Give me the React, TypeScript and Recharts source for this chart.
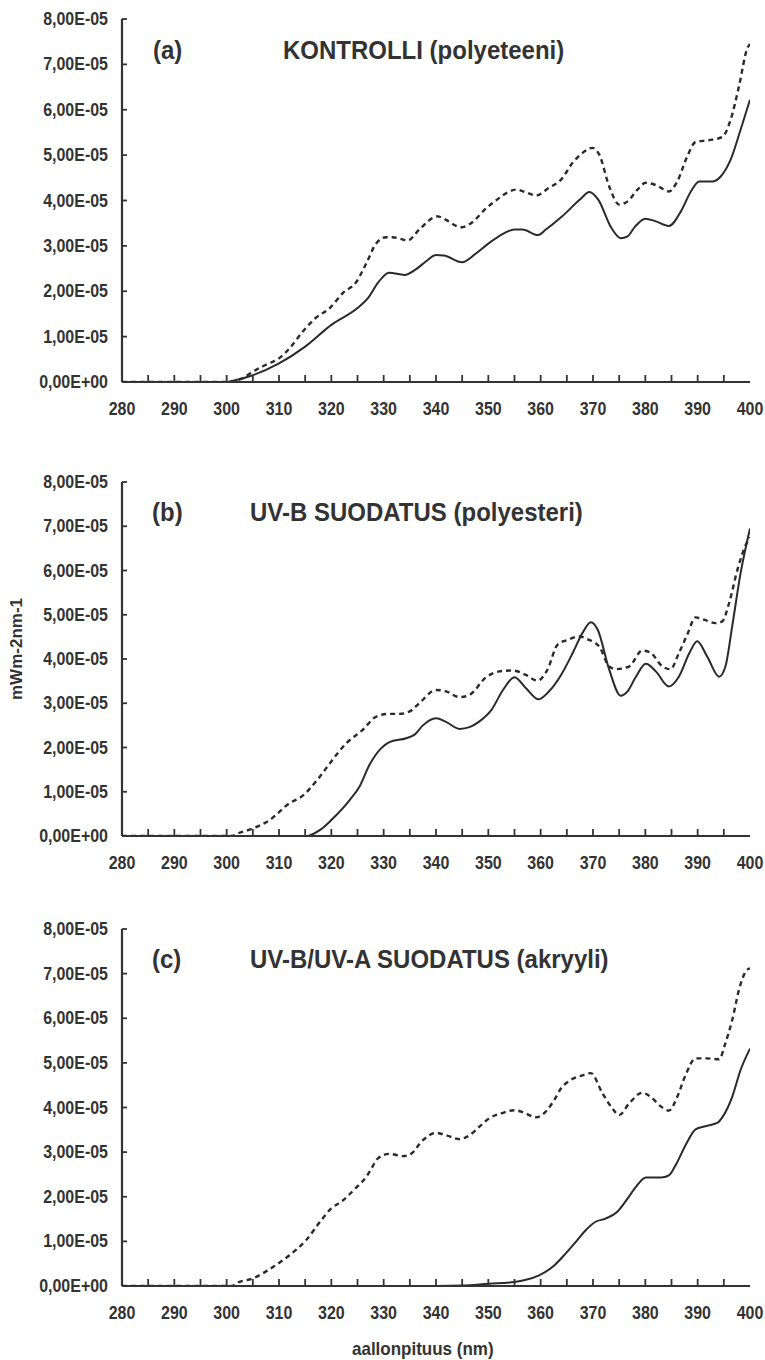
import React from 'react';
import { LineChart, Line, XAxis, YAxis } from 'recharts';

// wavelength ticks (nm) and y ticks (units of 1E-05)
const xTicks = [280, 285, 290, 295, 300, 305, 310, 315, 320, 325, 330, 335, 340, 345, 350, 355, 360, 365, 370, 375, 380, 385, 390, 395, 400];
const yTicks = [0, 1, 2, 3, 4, 5, 6, 7, 8];

// (a) KONTROLLI
const aSolidNm = [280, 290, 300, 302, 305, 310, 315, 320, 325, 327, 329, 331, 334, 336, 338, 340, 341.5, 345, 347.5, 350, 352, 355, 356.5, 359.5, 361, 364, 367.5, 369.3, 371, 373.5, 375.3, 376.6, 378, 380, 382, 384.5, 386.8, 388.7, 390.3, 392.8, 394.4, 396.3, 398.2, 400];
const aSolidVal = [0, 0, 0, 0.05, 0.15, 0.41, 0.78, 1.26, 1.63, 1.85, 2.2, 2.41, 2.36, 2.47, 2.65, 2.8, 2.79, 2.64, 2.82, 3.05, 3.21, 3.36, 3.36, 3.24, 3.36, 3.64, 4.02, 4.19, 4.02, 3.4, 3.17, 3.21, 3.42, 3.6, 3.54, 3.44, 3.76, 4.2, 4.42, 4.42, 4.53, 4.9, 5.56, 6.22];
const aDashNm = [280, 290, 300, 303, 305, 307.5, 310, 312, 314.6, 317, 319.7, 322.2, 324.8, 326.7, 328.6, 330.5, 331.7, 334.6, 336.8, 340.3, 341.8, 344.8, 346.7, 349.6, 351.8, 353.7, 355.3, 357.2, 359.1, 361.6, 363.9, 366.1, 368, 369.9, 371.2, 373.1, 375, 376.6, 378.5, 380.1, 382, 384.5, 386.1, 388, 389.6, 392.2, 394.7, 396.3, 397.9, 399.5, 400];
const aDashVal = [0, 0, 0, 0.08, 0.23, 0.38, 0.52, 0.74, 1.12, 1.41, 1.63, 1.96, 2.21, 2.62, 3.06, 3.19, 3.19, 3.12, 3.36, 3.65, 3.58, 3.41, 3.5, 3.83, 4.03, 4.18, 4.24, 4.18, 4.11, 4.28, 4.46, 4.83, 5.05, 5.16, 5.01, 4.31, 3.91, 3.98, 4.24, 4.39, 4.34, 4.2, 4.42, 4.97, 5.29, 5.33, 5.4, 5.78, 6.52, 7.36, 7.45];

// (b) UV-B SUODATUS
const bSolidNm = [280, 300, 310, 312, 314, 316, 318, 320, 323.5, 325.4, 327.3, 329.5, 331.1, 334.3, 335.9, 337.5, 340, 341.9, 344.5, 346.4, 348.3, 350.6, 352.8, 355, 357.2, 359.6, 361.6, 363.9, 366.1, 368, 369.6, 370.9, 373.1, 375.3, 376.6, 378.2, 380.1, 382, 384.5, 386.4, 388.4, 389.9, 391.8, 394.1, 395.3, 396.6, 398.2, 400];
const bSolidVal = [0, 0, 0, -0.03, -0.03, 0.02, 0.15, 0.36, 0.81, 1.12, 1.61, 1.98, 2.12, 2.21, 2.29, 2.5, 2.66, 2.58, 2.42, 2.46, 2.59, 2.85, 3.3, 3.59, 3.34, 3.09, 3.27, 3.64, 4.13, 4.59, 4.83, 4.66, 3.76, 3.17, 3.27, 3.6, 3.89, 3.72, 3.38, 3.6, 4.13, 4.4, 4.06, 3.6, 3.83, 4.74, 5.94, 6.95];
const bDashNm = [280, 301, 302.2, 305, 308.2, 312, 314.3, 317.8, 319.7, 322.9, 326, 328.6, 331.1, 333, 334.9, 336.8, 340, 341.9, 344.5, 346.4, 349.6, 352.1, 354.6, 357.2, 359.4, 361.3, 363.2, 365.1, 367.4, 368.9, 371.2, 373.1, 374.4, 376.9, 379.4, 380.9, 383.3, 384.8, 386.4, 388, 389.6, 391.2, 393.4, 394.7, 396, 397.6, 399.2, 400];
const bDashVal = [0, 0, 0.06, 0.17, 0.36, 0.74, 0.89, 1.34, 1.64, 2.1, 2.4, 2.7, 2.76, 2.76, 2.81, 3.0, 3.3, 3.27, 3.14, 3.19, 3.59, 3.72, 3.74, 3.64, 3.51, 3.76, 4.32, 4.43, 4.51, 4.45, 4.28, 3.83, 3.77, 3.83, 4.19, 4.15, 3.83, 3.77, 4.13, 4.55, 4.94, 4.89, 4.81, 4.85, 5.26, 6.02, 6.58, 6.75];

// (c) UV-B/UV-A SUODATUS
const cSolidNm = [280, 340, 345, 350, 355, 357.2, 359.7, 362.3, 364.8, 367, 368.6, 370.5, 372.4, 374.6, 376.6, 378.2, 380.1, 383, 384.5, 385.8, 387.7, 389.6, 391.5, 393.8, 394.7, 396.6, 398.2, 400];
const cSolidVal = [0, 0, 0.01, 0.05, 0.09, 0.14, 0.24, 0.43, 0.73, 1.03, 1.25, 1.44, 1.51, 1.66, 1.96, 2.22, 2.43, 2.43, 2.48, 2.71, 3.16, 3.51, 3.58, 3.66, 3.78, 4.24, 4.84, 5.32];
const cDashNm = [280, 301, 302, 305, 308.9, 312, 315.2, 318.1, 320, 321.9, 324.8, 326.7, 327.5, 328.9, 331.1, 333.7, 335.2, 337.5, 340, 341.9, 344.5, 346.4, 348.3, 350.2, 352.8, 355, 356.9, 359.1, 361, 362.6, 363.9, 365.8, 367.7, 369.6, 371.8, 373.7, 375, 376.9, 379.4, 381.3, 382.9, 384.5, 386.1, 387.7, 389.6, 391.8, 394.1, 395.3, 396.6, 397.9, 399.2, 400];
const cDashVal = [0, 0, 0.07, 0.17, 0.43, 0.69, 1.03, 1.48, 1.74, 1.89, 2.21, 2.45, 2.6, 2.86, 2.96, 2.91, 2.96, 3.27, 3.43, 3.38, 3.29, 3.38, 3.57, 3.76, 3.88, 3.94, 3.88, 3.78, 3.91, 4.17, 4.43, 4.62, 4.71, 4.77, 4.32, 3.98, 3.83, 4.09, 4.33, 4.21, 4.03, 3.93, 4.24, 4.73, 5.1, 5.1, 5.08, 5.44, 5.96, 6.64, 7.05, 7.12];

const SCALE = 1e-5;
const build = (nm: number[], val: number[]) => nm.map((x, i) => ({ x, y: val[i] * SCALE }));

const FONT = '"Liberation Sans", Arial, sans-serif';
const TXT = '#333';
const AX = '#333';
const LINE = '#2a2a2a';
const STRETCH = 1.1;

const fmtY = (t: number) => {
  const v = Math.round(t / SCALE);
  return v === 0 ? '0,00E+00' : `${v},00E-05`;
};

const XTick = (props: any) => {
  const { x, y, payload } = props;
  const v = payload.value;
  return (
    <g>
      {v !== 280 && v !== 400 && (
        <line x1={x} x2={x} y1={y} y2={y - 7} stroke={AX} strokeWidth={1.8} />
      )}
      {v % 10 === 0 && (
        <text
          transform={`translate(${x},${y + 33}) scale(1,${STRETCH})`}
          textAnchor="middle"
          fontSize={16}
          fontWeight="bold"
          fill={TXT}
          fontFamily={FONT}
        >
          {v}
        </text>
      )}
    </g>
  );
};

const YTick = (props: any) => {
  const { x, y, payload } = props;
  return (
    <g>
      <line x1={x} x2={x + 5} y1={y} y2={y} stroke={AX} strokeWidth={1.8} />
      <text
        transform={`translate(${x - 14},${y + 6}) scale(1,${STRETCH})`}
        textAnchor="end"
        fontSize={16}
        fontWeight="bold"
        fill={TXT}
        fontFamily={FONT}
      >
        {fmtY(payload.value)}
      </text>
    </g>
  );
};

const Panel = ({ top, marginTop, solid, dashed }: any) => (
  <div style={{ position: 'absolute', left: 0, top, width: 765, height: 440 }}>
    <LineChart width={765} height={440} margin={{ top: marginTop, right: 15, bottom: 0, left: 0 }}>
      <XAxis
        dataKey="x"
        type="number"
        domain={[280, 400]}
        ticks={xTicks}
        interval={0}
        tickSize={0}
        tickMargin={0}
        tickLine={false}
        tick={<XTick />}
        height={50}
        axisLine={{ stroke: AX, strokeWidth: 2.2 }}
        allowDataOverflow
      />
      <XAxis
        xAxisId="top"
        orientation="top"
        dataKey="x"
        type="number"
        domain={[280, 400]}
        tick={false}
        tickLine={false}
        height={0}
        axisLine={{ stroke: AX, strokeWidth: 2.2 }}
      />
      <YAxis
        type="number"
        domain={[0, 8 * SCALE]}
        ticks={yTicks.map((t) => t * SCALE)}
        interval={0}
        tickSize={0}
        tickMargin={0}
        tickLine={false}
        tick={<YTick />}
        width={122}
        axisLine={{ stroke: AX, strokeWidth: 2.2 }}
        allowDataOverflow
      />
      <YAxis
        yAxisId="right"
        orientation="right"
        type="number"
        domain={[0, 8 * SCALE]}
        tick={false}
        tickLine={false}
        width={0}
        axisLine={{ stroke: AX, strokeWidth: 2.2 }}
      />
      <Line
        data={dashed}
        dataKey="y"
        type="monotone"
        stroke={LINE}
        strokeWidth={2.4}
        strokeDasharray="5 4"
        dot={false}
        isAnimationActive={false}
      />
      <Line
        data={solid}
        dataKey="y"
        type="monotone"
        stroke={LINE}
        strokeWidth={2}
        dot={false}
        isAnimationActive={false}
      />
    </LineChart>
  </div>
);

const titleStyle = { fontFamily: FONT, fontWeight: 'bold' as const, fill: TXT };

const T = ({ x, y, size, children }: any) => (
  <text transform={`translate(${x},${y}) scale(1,${STRETCH})`} fontSize={size} {...titleStyle}>
    {children}
  </text>
);

export default function App() {
  return (
    <div style={{ position: 'absolute', left: 0, top: 0, width: 765, height: 1360, background: '#fff', overflow: 'hidden' }}>
      <Panel top={-8} marginTop={27} solid={build(aSolidNm, aSolidVal)} dashed={build(aDashNm, aDashVal)} />
      <Panel top={446} marginTop={36} solid={build(bSolidNm, bSolidVal)} dashed={build(bDashNm, bDashVal)} />
      <Panel top={896} marginTop={33} solid={build(cSolidNm, cSolidVal)} dashed={build(cDashNm, cDashVal)} />
      <svg width={765} height={1360} style={{ position: 'absolute', left: 0, top: 0, pointerEvents: 'none' }}>
        <T x={153} y={59} size={24}>(a)</T>
        <T x={283} y={59} size={24}>KONTROLLI (polyeteeni)</T>
        <T x={152} y={521} size={24}>(b)</T>
        <T x={250} y={521} size={24}>UV-B SUODATUS (polyesteri)</T>
        <T x={152} y={968} size={24}>(c)</T>
        <T x={250} y={968} size={24}>UV-B/UV-A SUODATUS (akryyli)</T>
        <text transform="translate(22,649) rotate(-90)" textAnchor="middle" fontSize={17} {...titleStyle}>mWm-2nm-1</text>
        <T x={352} y={1355} size={17}>aallonpituus (nm)</T>
      </svg>
    </div>
  );
}
